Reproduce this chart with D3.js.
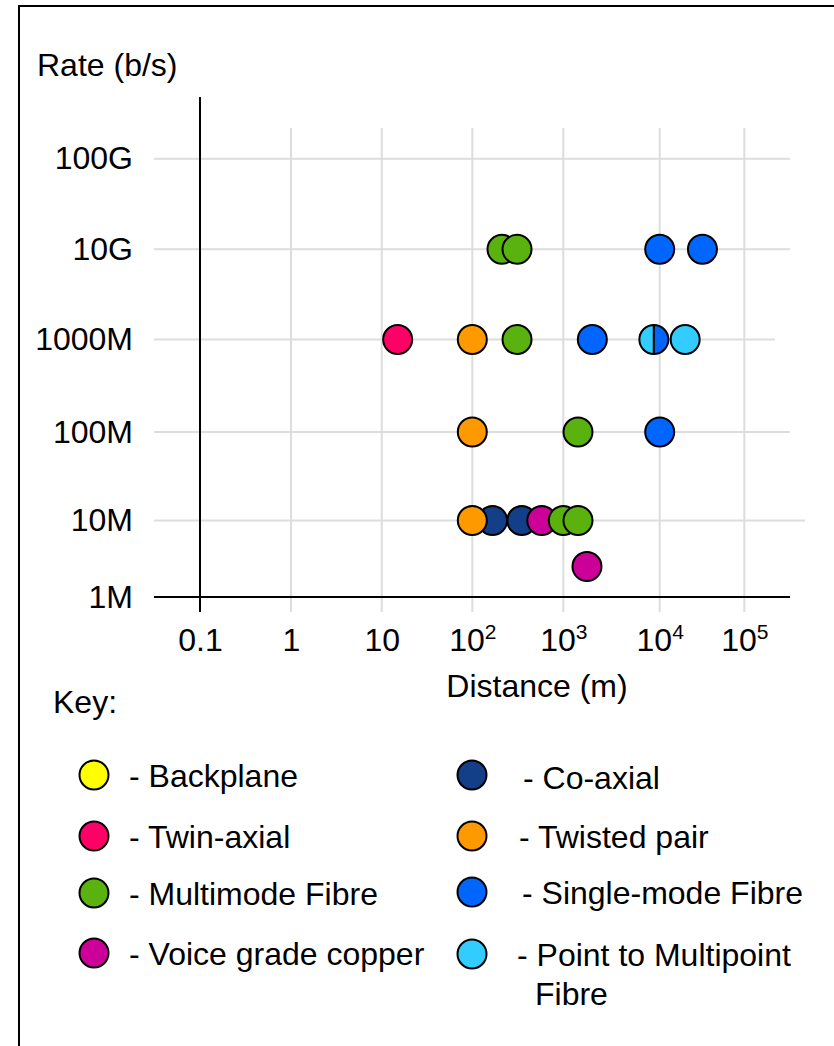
<!DOCTYPE html>
<html>
<head>
<meta charset="utf-8">
<script src="https://cdn.jsdelivr.net/npm/d3@7"></script>
<style>
  body { margin: 0; background: #fff; }
  svg { display: block; font-family: "Liberation Sans", Arial, sans-serif; }
</style>
</head>
<body>
<svg id="chart" width="834" height="1046"></svg>
<script>
// ---- data ----
var xTicks = [0.1, 1, 10, 100, 1000, 10000, 100000];
var xBase = ["0.1", "1", "10", "10", "10", "10", "10"];
var xExp = ["", "", "", "2", "3", "4", "5"];
var yTicks = [1e6, 1e7, 1e8, 1e9, 1e10, 1e11];
var yLabels = ["1M", "10M", "100M", "1000M", "10G", "100G"];

// [distance (m), rate (b/s)]
var coaxial = [[167, 1e7], [350, 1e7]];
var voiceGrade = [[580, 1e7], [1760, 2.5e6]];
var multimode = [[212, 1e10], [310, 1e10], [310, 1e9], [1420, 1e8], [1000, 1e7], [1420, 1e7]];
var twistedPair = [[100, 1e9], [100, 1e8], [100, 1e7]];
var twinAxial = [[15, 1e9]];
var singleMode = [[10000, 1e10], [32000, 1e10], [2000, 1e9], [10000, 1e8]];
var pointMultipoint = [[20000, 1e9]];
// one point shared by two media, drawn as two halves
var shared = [{d: 8700, r: 1e9, left: "Point to Multipoint Fibre", right: "Single-mode Fibre"}];

var keyLeft = ["Backplane", "Twin-axial", "Multimode Fibre", "Voice grade copper"];
var keyRight = ["Co-axial", "Twisted pair", "Single-mode Fibre", "Point to Multipoint Fibre"];

var colours = {
  "Backplane": "#ffff00",
  "Twin-axial": "#ff0066",
  "Multimode Fibre": "#5ab20e",
  "Voice grade copper": "#cc0099",
  "Co-axial": "#123f88",
  "Twisted pair": "#ff9900",
  "Single-mode Fibre": "#0066ff",
  "Point to Multipoint Fibre": "#33ccff"
};

// draw order matters where dots overlap
var series = [
  {name: "Co-axial", pts: coaxial},
  {name: "Voice grade copper", pts: voiceGrade},
  {name: "Multimode Fibre", pts: multimode},
  {name: "Twisted pair", pts: twistedPair},
  {name: "Twin-axial", pts: twinAxial},
  {name: "Single-mode Fibre", pts: singleMode},
  {name: "Point to Multipoint Fibre", pts: pointMultipoint}
];

var svg = d3.select("#chart");
var R = 14.5;

// piecewise log scales (the original decades are not quite even)
var x = d3.scaleLog().domain(xTicks).range([200, 291, 381.7, 472.3, 563.3, 659.7, 744.3]);
var y = d3.scaleLog().domain(yTicks).range([597, 520.5, 432, 339.5, 249.3, 158.7]);

// frame (cut off on right and bottom)
svg.append("rect")
  .attr("x", 19).attr("y", 6).attr("width", 900).attr("height", 1100)
  .attr("fill", "none").attr("stroke", "#000").attr("stroke-width", 2);

svg.append("text").attr("x", 37).attr("y", 76).attr("font-size", 32).text("Rate (b/s)");

// grid
var gridEnd = function(d) { return d === 1e9 ? 775 : d === 1e7 ? 805 : 790; };
svg.append("g").selectAll("line").data(xTicks).join("line")
  .attr("x1", d => x(d)).attr("x2", d => x(d))
  .attr("y1", 128).attr("y2", 612)
  .attr("stroke", "#dddddd").attr("stroke-width", 2);
svg.append("g").selectAll("line").data(yTicks.slice(1)).join("line")
  .attr("x1", 154).attr("x2", d => gridEnd(d))
  .attr("y1", d => y(d)).attr("y2", d => y(d))
  .attr("stroke", "#dddddd").attr("stroke-width", 2);

// axis lines
svg.append("line").attr("x1", x(0.1)).attr("x2", x(0.1)).attr("y1", 97).attr("y2", 612)
  .attr("stroke", "#000").attr("stroke-width", 2);
svg.append("line").attr("x1", 154).attr("x2", 790).attr("y1", y(1e6)).attr("y2", y(1e6))
  .attr("stroke", "#000").attr("stroke-width", 2);

// tick labels
var gy = svg.append("g").attr("transform", "translate(154,0)")
  .call(d3.axisLeft(y).tickValues(yTicks).tickFormat((d, i) => yLabels[i]).tickSize(0).tickPadding(21));
gy.select(".domain").remove();
gy.selectAll("text").attr("font-size", 32).attr("font-family", null).attr("fill", "#000");

var gx = svg.append("g").attr("transform", "translate(0," + y(1e6) + ")")
  .call(d3.axisBottom(x).tickValues(xTicks).tickFormat("").tickSize(0).tickPadding(31));
gx.select(".domain").remove();
gx.selectAll("text").each(function(d, i) {
  var t = d3.select(this).attr("font-size", 32).attr("font-family", null).attr("fill", "#000");
  t.append("tspan").text(xBase[i]);
  if (xExp[i]) t.append("tspan").attr("font-size", 21).attr("dy", "-0.55em").text(xExp[i]);
});

svg.append("text").attr("x", 537).attr("y", 697).attr("text-anchor", "middle")
  .attr("font-size", 32).text("Distance (m)");

// points
series.forEach(function(s) {
  svg.append("g").selectAll("circle").data(s.pts).join("circle")
    .attr("cx", d => x(d[0])).attr("cy", d => y(d[1])).attr("r", R)
    .attr("fill", colours[s.name]).attr("stroke", "#000").attr("stroke-width", 2);
});

var half = d3.arc().innerRadius(0).outerRadius(R);
var sg = svg.append("g").selectAll("g").data(shared).join("g")
  .attr("transform", d => "translate(" + x(d.d) + "," + y(d.r) + ")");
sg.append("path").attr("d", half({startAngle: Math.PI, endAngle: 2 * Math.PI}))
  .attr("fill", d => colours[d.left]).attr("stroke", "#000").attr("stroke-width", 2);
sg.append("path").attr("d", half({startAngle: 0, endAngle: Math.PI}))
  .attr("fill", d => colours[d.right]).attr("stroke", "#000").attr("stroke-width", 2);

// key
svg.append("text").attr("x", 53).attr("y", 713).attr("font-size", 32).text("Key:");

var leftRows = [775, 836, 893, 953];
var rightRows = [775, 836, 892, 954];

var kl = svg.append("g").selectAll("g").data(keyLeft).join("g")
  .attr("transform", (d, i) => "translate(94," + leftRows[i] + ")");
kl.append("circle").attr("r", R).attr("fill", d => colours[d]).attr("stroke", "#000").attr("stroke-width", 2);
kl.append("text").attr("x", 35).attr("y", 11.5).attr("font-size", 32).text(d => "- " + d);

var kr = svg.append("g").selectAll("g").data(keyRight).join("g")
  .attr("transform", (d, i) => "translate(472," + rightRows[i] + ")");
kr.append("circle").attr("r", R).attr("fill", d => colours[d]).attr("stroke", "#000").attr("stroke-width", 2);
var textX = [51, 47, 50, 45];
kr.append("text").attr("y", (d, i) => i === 0 ? 14 : 11.5).attr("font-size", 32)
  .each(function(d, i) {
    var t = d3.select(this);
    if (d === "Point to Multipoint Fibre") {
      t.append("tspan").attr("x", textX[i]).text("- Point to Multipoint");
      t.append("tspan").attr("x", textX[i] + 18).attr("dy", 39).text("Fibre");
    } else {
      t.attr("x", textX[i]).text("- " + d);
    }
  });
</script>
</body>
</html>
